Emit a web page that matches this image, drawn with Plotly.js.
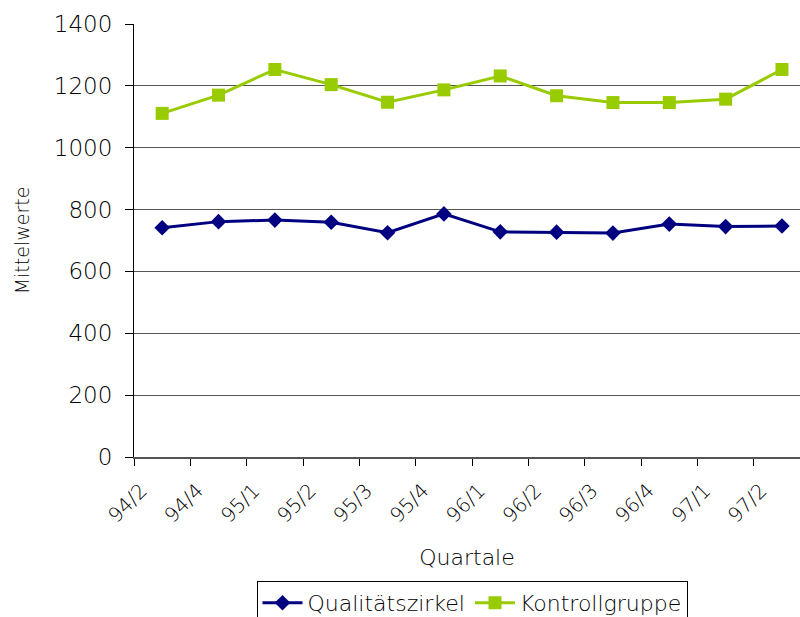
<!DOCTYPE html>
<html>
<head>
<meta charset="utf-8">
<script src="https://cdn.plot.ly/plotly-3.0.1.min.js"></script>
<style>
  html, body { margin: 0; padding: 0; background: #fff; }
  #chart { width: 800px; height: 617px; }
</style>
</head>
<body>
<div id="chart"></div>
<script>
// Quarterly means for the quality circle group and the control group
const quartale = ["94/2", "94/4", "95/1", "95/2", "95/3", "95/4", "96/1", "96/2", "96/3", "96/4", "97/1", "97/2"];
const qualitaetszirkel = [741, 761, 766, 759, 725, 786, 728, 727, 724, 753, 745, 747];
const kontrollgruppe = [1111, 1170, 1253, 1204, 1147, 1187, 1232, 1168, 1146, 1146, 1157, 1253];
const yTicks = [0, 200, 400, 600, 800, 1000, 1200, 1400];

const FONT = "DejaVu Sans, sans-serif";
const W = 300;

const traces = [
  {
    name: "Qualitätszirkel",
    x: quartale,
    y: qualitaetszirkel,
    type: "scatter",
    mode: "lines+markers",
    line: { color: "#000080", width: 3 },
    marker: { symbol: "diamond", size: 12, color: "#000080" }
  },
  {
    name: "Kontrollgruppe",
    x: quartale,
    y: kontrollgruppe,
    type: "scatter",
    mode: "lines+markers",
    line: { color: "#99CC00", width: 3 },
    marker: { symbol: "square", size: 13, color: "#99CC00" }
  }
];

const layout = {
  width: 800,
  height: 617,
  margin: { l: 134, r: 0, t: 24, b: 160 },
  paper_bgcolor: "#ffffff",
  plot_bgcolor: "#ffffff",
  font: { family: FONT, size: 20, color: "#000000", weight: W },
  showlegend: true,
  xaxis: {
    type: "category",
    range: [-0.5, 11.32],
    tickson: "boundaries",
    ticks: "outside",
    ticklen: 7,
    tickcolor: "#000000",
    tickangle: -45,
    ticklabelshift: -21,
    ticklabelstandoff: 12,
    showline: true,
    linecolor: "#555555",
    linewidth: 2,
    showgrid: false,
    zeroline: false,
    automargin: false,
    tickfont: { family: FONT, size: 20, weight: W },
    title: { text: "Quartale", font: { family: FONT, size: 22, weight: W }, standoff: 23 },
    fixedrange: true
  },
  yaxis: {
    range: [0, 1400],
    tickvals: yTicks,
    ticks: "outside",
    ticklen: 8,
    tickcolor: "#000000",
    ticklabelstandoff: 8,
    showline: true,
    linecolor: "#000000",
    linewidth: 1,
    showgrid: true,
    gridcolor: "#555555",
    gridwidth: 1,
    zeroline: false,
    automargin: false,
    tickfont: { family: FONT, size: 23, weight: W },
    title: { text: "Mittelwerte", font: { family: FONT, size: 19, weight: W }, standoff: 19 },
    fixedrange: true
  },
  legend: {
    orientation: "h",
    xref: "container",
    yref: "container",
    x: 0.59,
    xanchor: "center",
    y: 1 - 581 / 617,
    yanchor: "top",
    bordercolor: "#000000",
    borderwidth: 1,
    font: { family: FONT, size: 22, weight: W },
    itemwidth: 40
  }
};

Plotly.newPlot("chart", traces, layout, { displayModeBar: false, staticPlot: true });
</script>
</body>
</html>
